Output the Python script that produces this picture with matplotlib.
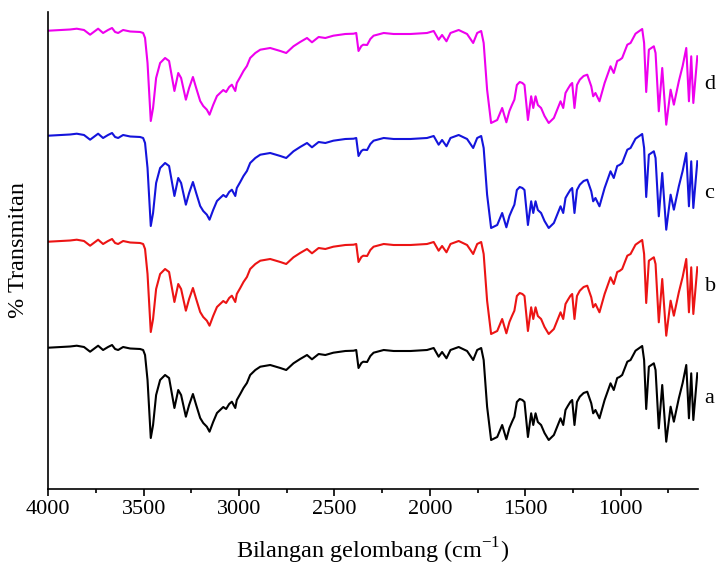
import matplotlib
matplotlib.use('Agg')
from matplotlib import pyplot as plt
import numpy as np

# wavenumber (cm-1) and transmittance
wavenumber = [4000, 3939, 3886, 3851, 3813, 3781, 3739, 3713, 3687, 3666,
              3650, 3634, 3608, 3571, 3519, 3503, 3493, 3480, 3463, 3451,
              3435, 3414, 3388, 3367, 3351, 3339, 3319, 3304, 3279, 3262,
              3242, 3225, 3204, 3188, 3169, 3155, 3136, 3116, 3083, 3068,
              3052, 3038, 3020, 3012, 2994, 2977, 2959, 2942, 2915, 2889,
              2837, 2784, 2753, 2715, 2680, 2644, 2618, 2583, 2548, 2506,
              2443, 2400, 2386, 2374, 2359, 2349, 2329, 2312, 2295, 2242,
              2190, 2102, 2015, 1980, 1954, 1936, 1913, 1892, 1849, 1805,
              1773, 1752, 1731, 1718, 1700, 1679, 1647, 1621, 1599, 1583,
              1569, 1557, 1544, 1529, 1515, 1504, 1486, 1469, 1458, 1446,
              1434, 1417, 1399, 1377, 1350, 1331, 1315, 1301, 1289, 1277,
              1263, 1254, 1242, 1229, 1214, 1194, 1175, 1154, 1144, 1132,
              1111, 1084, 1053, 1036, 1018, 1006, 992, 965, 948, 922,
              887, 877, 866, 852, 839, 826, 817, 800, 782, 761,
              738, 721, 695, 675, 656, 642, 630, 619, 598]

trans_a = [98.3, 99, 99.5, 100.3, 99, 94.3, 100.3, 96, 99, 101,
           97, 96, 99, 97.5, 97, 96, 91, 66, 8, 21,
           51, 66, 71, 68, 51, 38, 56, 51, 29.3, 41,
           52, 41, 28, 23, 19.3, 14.3, 24, 33, 39, 37,
           42, 44.3, 38, 46, 52, 58, 63, 71, 76, 79.3,
           81, 78, 76, 82.7, 87, 91, 86.7, 92, 91, 93.3,
           95, 95.3, 96, 78, 83, 84.3, 84, 90, 93.3, 96,
           95, 95, 96, 98, 89.3, 94, 87.7, 96, 99, 95,
           86, 96, 98, 86, 39.3, 6, 9, 21, 6.7, 18,
           24.3, 29.3, 44, 47, 46, 44, 9, 32.7, 21, 32.7,
           24, 21, 13, 6, 11, 20, 27.7, 21, 36, 40,
           44.3, 46, 21, 44, 49.3, 53, 54.3, 42.7, 32.7, 36,
           27.7, 46, 62.7, 56, 68, 69, 71, 84.3, 86, 95.3,
           100, 86, 37, 79.3, 81, 82.7, 76, 17.7, 61, 4.3,
           39.3, 24.3, 47.7, 63, 81, 27.7, 72.7, 26, 72.7]

# the four spectra read the same at this resolution
trans_b = trans_a
trans_c = trans_a
trans_d = trans_a

samples = ['a', 'b', 'c', 'd']
spectra = [trans_a, trans_b, trans_c, trans_d]
colors = ['black', '#ec1414', '#1414dc', '#ee00ee']
offsets = [0, 106, 212, 317]
label_y = [48, 159, 252, 361]

plt.rcParams['font.family'] = ['Liberation Serif', 'DejaVu Serif']
plt.rcParams['mathtext.fontset'] = 'custom'
plt.rcParams['mathtext.rm'] = 'Liberation Serif'

fig = plt.figure(figsize=(7.17, 5.71), dpi=100)
ax = fig.add_axes([0.0674, 0.1436, 0.9057, 0.8354])

for name, t, color, off, ly in zip(samples, spectra, colors, offsets, label_y):
    ax.plot(wavenumber, np.array(t) + off, color=color, linewidth=1.5)
    ax.text(560, ly, name, fontsize=16, va='center', ha='left', clip_on=False)

ax.set_xlim(4000, 596)
ax.set_ylim(-43, 434)
ax.set_xticks([4000, 3500, 3000, 2500, 2000, 1500, 1000])
ax.set_xticks([3750, 3250, 2750, 2250, 1750, 1250, 750], minor=True)
ax.set_yticks([])
ax.tick_params(axis='x', which='major', length=5, width=1.2, labelsize=16, pad=3)
ax.tick_params(axis='x', which='minor', length=3, width=1.2)
ax.spines['top'].set_visible(False)
ax.spines['right'].set_visible(False)
ax.spines['left'].set_linewidth(1.2)
ax.spines['bottom'].set_linewidth(1.2)
ax.set_xlabel(r'Bilangan gelombang (cm$^{-1}$)', fontsize=17.5, labelpad=12)
ax.set_ylabel('% Transmitan', fontsize=17.5, labelpad=14)

plt.savefig('out.png', dpi=100)
